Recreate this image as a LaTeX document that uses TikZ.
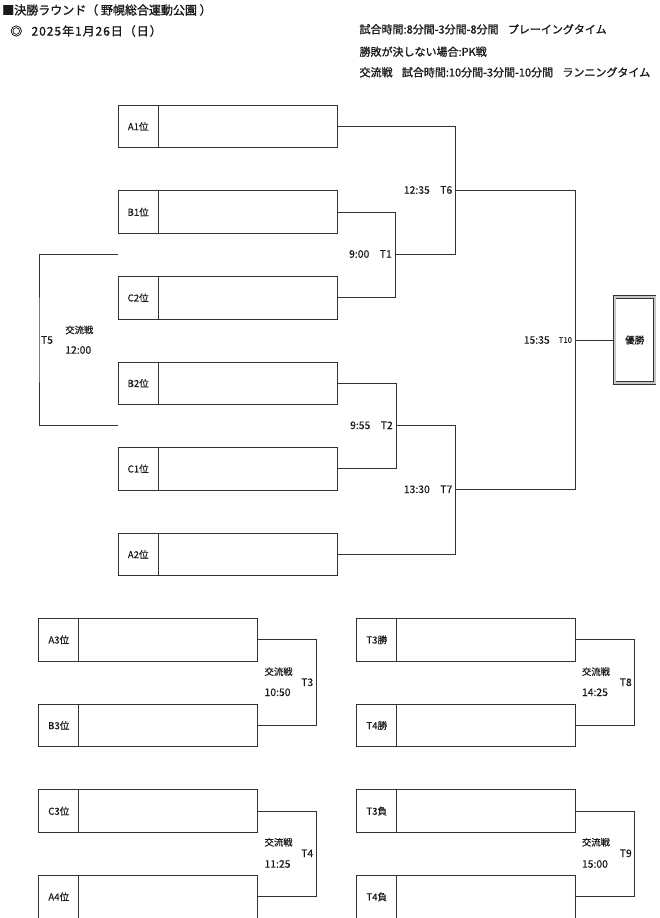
\documentclass[tikz,border=0pt]{standalone}
\usepackage{fontspec}
\setmainfont{Noto Sans CJK JP}[FakeBold=0.3]
\newfontfamily\headfont{Noto Sans CJK JP}[FakeBold=1.2]
\newfontfamily\datefont{Noto Sans CJK JP}[FakeBold=1.2,LetterSpace=8]
\definecolor{linec}{HTML}{333333}
\definecolor{textc}{HTML}{1A1A1A}
\begin{document}
\begin{tikzpicture}[x=0.75pt,y=-0.75pt,
  entry/.style={draw=linec, line width=0.75pt, minimum width=164.25pt, minimum height=32pt, anchor=north west, inner sep=0pt},
  cell/.style={draw=linec, line width=0.75pt, minimum width=30pt, minimum height=32pt, anchor=north west, inner sep=0pt, text=textc, font=\fontsize{7.2}{9}\selectfont},
  link/.style={draw=linec, line width=0.75pt},
  tlabel/.style={anchor=east, inner sep=0pt, text=textc, font=\fontsize{7.8}{9}\selectfont},
  small/.style={inner sep=0pt, text=textc, font=\fontsize{7}{9}\selectfont},
  head/.style={anchor=west, inner sep=0pt, text=textc, font=\headfont\fontsize{9}{11}\selectfont},
  rhead/.style={anchor=west, inner sep=0pt, text=textc, font=\headfont\fontsize{8.25}{10}\selectfont}]
\useasboundingbox (0,0) rectangle (660,918);
% header
\node[head] (h1) at (2,10) {■決勝ラウンド（ 野幌総合運動公園 ）};
\node[head, font=\datefont\fontsize{9}{11}\selectfont] (h2) at (10,31) {◎\hspace{7pt}2025年1月26日（日）};
\node[rhead] (h3) at (359.3,29.3) {試合時間:8分間-3分間-8分間\hspace{7pt}プレーイングタイム};
\node[rhead] (h4) at (359.3,51.7) {勝敗が決しない場合:PK戦};
\node[rhead] (h5) at (359.3,72.3) {交流戦\hspace{7pt}試合時間:10分間-3分間-10分間\hspace{7pt}ランニングタイム};
% main bracket boxes
\node[entry] (A1) at (117.7,104.7) {};
\node[cell] (A1l) at (A1.north west) {A1位};
\node[entry] (B1) at (117.7,190.3) {};
\node[cell] (B1l) at (B1.north west) {B1位};
\node[entry] (C2) at (117.7,276) {};
\node[cell] (C2l) at (C2.north west) {C2位};
\node[entry] (B2) at (117.7,361.5) {};
\node[cell] (B2l) at (B2.north west) {B2位};
\node[entry] (C1) at (117.7,447) {};
\node[cell] (C1l) at (C1.north west) {C1位};
\node[entry] (A2) at (117.7,532.7) {};
\node[cell] (A2l) at (A2.north west) {A2位};
% winner
\node[draw=linec, double=gray!45, line width=0.6pt, double distance=1.4pt, minimum width=30pt, minimum height=64.5pt, inner sep=0pt, text=textc, font=\fontsize{7.2}{9}\selectfont] (W) at (634.7,340) {優勝};
% junctions
\coordinate (t1) at (395.7,254);
\coordinate (t6) at (455.7,190);
\coordinate (t2) at (396.3,425.3);
\coordinate (t7) at (455.7,489.3);
\coordinate (t10) at (575.3,340);
\coordinate (c5a) at (117.7,254.5);
\coordinate (c5b) at (117.7,425.3);
\coordinate (t5) at (39,340);
\draw[link] (B1.east) -| (t1) |- (C2.east);
\draw[link] (A1.east) -| (t6) |- (t1);
\draw[link] (B2.east) -| (t2) |- (C1.east);
\draw[link] (t2) -| (t7) |- (A2.east);
\draw[link] (t6) -| (t10) |- (t7);
\draw[link] (t10) -- (W.west);
\draw[link] (c5a) -| (t5) |- (c5b);
% labels
\node[tlabel] (l6) at (452.5,190) {12:35\quad T6};
\node[tlabel] (l1) at (392,254) {9:00\quad T1};
\node[tlabel] (l2) at (393,425.3) {9:55\quad T2};
\node[tlabel] (l7) at (452.5,489.3) {13:30\quad T7};
\node[tlabel] (l10) at (550,340) {15:35};
\node[small, anchor=west, font=\fontsize{5.8}{7}\selectfont] (l10b) at (558.5,340) {T10};
\node[small, anchor=west, font=\fontsize{7.8}{9}\selectfont] (l5) at (40.7,340) {T5};
\node[small, anchor=west] (l5a) at (65,330) {交流戦};
\node[small, anchor=west, font=\fontsize{7.8}{9}\selectfont] (l5b) at (65,350) {12:00};
% bottom groups
\node[entry] (A3) at (38.3,618) {};
\node[cell] (A3l) at (A3.north west) {A3位};
\node[entry] (B3) at (38.3,703.7) {};
\node[cell] (B3l) at (B3.north west) {B3位};
\node[entry] (C3) at (38.3,789.3) {};
\node[cell] (C3l) at (C3.north west) {C3位};
\node[entry] (A4) at (38.3,875) {};
\node[cell] (A4l) at (A4.north west) {A4位};
\node[entry] (T3W) at (356.3,618) {};
\node[cell] (T3Wl) at (T3W.north west) {T3勝};
\node[entry] (T4W) at (356.3,703.7) {};
\node[cell] (T4Wl) at (T4W.north west) {T4勝};
\node[entry] (T3L) at (356.3,789.3) {};
\node[cell] (T3Ll) at (T3L.north west) {T3負};
\node[entry] (T4L) at (356.3,875) {};
\node[cell] (T4Ll) at (T4L.north west) {T4負};
\coordinate (t3) at (316.7,682.3);
\coordinate (t4) at (316.7,853.3);
\coordinate (t8) at (634.7,682.3);
\coordinate (t9) at (634.7,853.3);
\draw[link] (A3.east) -| (t3) |- (B3.east);
\draw[link] (C3.east) -| (t4) |- (A4.east);
\draw[link] (T3W.east) -| (t8) |- (T4W.east);
\draw[link] (T3L.east) -| (t9) |- (T4L.east);
\node[small, anchor=west] (k3a) at (264.3,671.7) {交流戦};
\node[small, anchor=west, font=\fontsize{7.8}{9}\selectfont] (k3b) at (264.3,692.3) {10:50};
\node[small, anchor=east, font=\fontsize{7.8}{9}\selectfont] (k3c) at (313.5,682.3) {T3};
\node[small, anchor=west] (k4a) at (264.3,842.3) {交流戦};
\node[small, anchor=west, font=\fontsize{7.8}{9}\selectfont] (k4b) at (264.3,864) {11:25};
\node[small, anchor=east, font=\fontsize{7.8}{9}\selectfont] (k4c) at (313.5,853.3) {T4};
\node[small, anchor=west] (k8a) at (581.7,671.7) {交流戦};
\node[small, anchor=west, font=\fontsize{7.8}{9}\selectfont] (k8b) at (581.7,692.3) {14:25};
\node[small, anchor=east, font=\fontsize{7.8}{9}\selectfont] (k8c) at (632,682.3) {T8};
\node[small, anchor=west] (k9a) at (581.7,842.3) {交流戦};
\node[small, anchor=west, font=\fontsize{7.8}{9}\selectfont] (k9b) at (581.7,864) {15:00};
\node[small, anchor=east, font=\fontsize{7.8}{9}\selectfont] (k9c) at (632,853.3) {T9};
\end{tikzpicture}
\end{document}
